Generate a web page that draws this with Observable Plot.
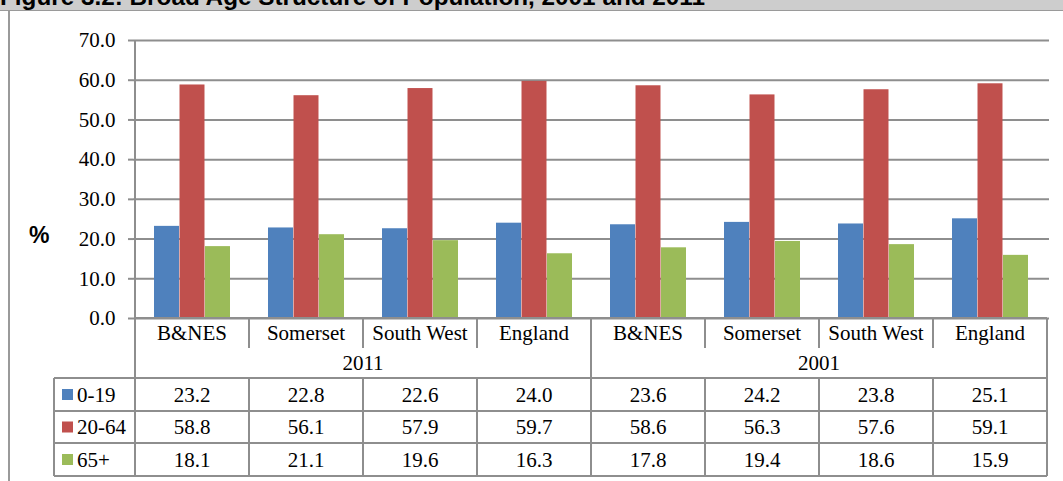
<!DOCTYPE html>
<html>
<head>
<meta charset="utf-8">
<script src="https://cdn.jsdelivr.net/npm/d3@7"></script>
<script src="https://cdn.jsdelivr.net/npm/@observablehq/plot@0.6"></script>
<style>
  html, body { margin: 0; padding: 0; background: #fff; }
  #page { position: relative; width: 1063px; height: 481px; overflow: hidden; background: #fff; }
  #chart { position: absolute; left: 0; top: 0; }
  #chart svg text { font-family: "Liberation Serif", "Times New Roman", serif; }
  #titlebar { position: absolute; left: 0; top: 0; }
  #box { position: absolute; left: 8px; top: 11px; width: 1200px; height: 600px; border-left: 2px solid #9a9a9a; }
  #ylabel { position: absolute; left: 29px; top: 222px; font: bold 23px "Liberation Sans", Arial, sans-serif; color: #000; }
</style>
</head>
<body>
<div id="page">
  <div id="box"></div>
  <div id="chart"></div>
  <svg id="titlebar" width="1063" height="11">
    <rect x="0" y="0" width="1063" height="10" fill="#cdcdcd"></rect>
    <line x1="0" x2="1063" y1="10.5" y2="10.5" stroke="#9a9a9a"></line>
    <text x="0" y="5" font-family="'Liberation Sans', Arial, sans-serif" font-weight="bold" font-size="24" textLength="705" lengthAdjust="spacingAndGlyphs">Figure 3.2: Broad Age Structure of Population, 2001 and 2011</text>
  </svg>
  <div id="ylabel">%</div>
</div>
<script>
// Areas and census years shown along the category axis
const areas = ["B&NES", "Somerset", "South West", "England"];
const years = ["2011", "2001"];

// Share of population (%) by broad age band, 2011 areas first, then 2001 areas
const age0to19  = [23.2, 22.8, 22.6, 24.0, 23.6, 24.2, 23.8, 25.1];
const age20to64 = [58.8, 56.1, 57.9, 59.7, 58.6, 56.3, 57.6, 59.1];
const age65plus = [18.1, 21.1, 19.6, 16.3, 17.8, 19.4, 18.6, 15.9];

const seriesNames = ["0-19", "20-64", "65+"];
const seriesValues = [age0to19, age20to64, age65plus];
const seriesColors = ["#4f81bd", "#c0504d", "#9bbb59"];

const yTicks = [0, 10, 20, 30, 40, 50, 60, 70];

// One column per year/area pair
const columns = years.flatMap(yr => areas.map(a => ({key: `${yr} ${a}`, year: yr, area: a})));
const columnKeys = columns.map(c => c.key);

const rows = seriesNames.flatMap((s, si) =>
  columns.map((c, ci) => ({series: s, si, key: c.key, value: seriesValues[si][ci]})));

const W = 1063, H = 481;
const marginLeft = 133, marginRight = 14, marginTop = 40, marginBottom = 163;
const lineGray = "#8e8e8e";
const serif = "Liberation Serif, Times New Roman, serif";

// Three bars side by side inside each column, with equal gaps at both sides
const step = (W - marginLeft - marginRight) / columnKeys.length;
const groupWidth = step * 0.668;
const gap = (step - groupWidth) / 2;
const barWidth = groupWidth / seriesNames.length;

const barMarks = seriesNames.map((s, i) =>
  Plot.barY(rows.filter(r => r.si === i), {
    x: "key",
    y: "value",
    fill: seriesColors[i],
    insetLeft: gap + i * barWidth,
    insetRight: step - gap - (i + 1) * barWidth
  }));

const chart = Plot.plot({
  width: W,
  height: H,
  marginLeft, marginRight, marginTop, marginBottom,
  style: {fontFamily: serif, fontSize: "21px", color: "#000", background: "transparent"},
  x: {domain: columnKeys, padding: 0, axis: null},
  y: {domain: [0, 70], axis: null},
  marks: [
    Plot.ruleY(yTicks, {stroke: lineGray, strokeWidth: 2}),
    ...barMarks,
    Plot.axisY(yTicks, {
      tickSize: 5,
      tickPadding: 13,
      tickFormat: d => d.toFixed(1),
      stroke: lineGray,
      strokeWidth: 2,
      fill: "#000",
      label: null,
      fontSize: 21,
      fontFamily: serif
    })
  ]
});

document.getElementById("chart").appendChild(chart);

// Data table under the bars, laid out on the chart's own x and y scales
const xs = chart.scale("x");
const ys = chart.scale("y");
const colLeft = k => xs.apply(k);
const colRight = k => xs.apply(k) + xs.bandwidth;
const colMid = k => xs.apply(k) + xs.bandwidth / 2;

const x0 = colLeft(columnKeys[0]);
const x1 = colRight(columnKeys[columnKeys.length - 1]);
const yBase = ys.apply(0);
const keyLeft = 54;

const catRowBottom = yBase + 30;
const yearRowBottom = yBase + 60;
const dataRowEdges = [yearRowBottom, yearRowBottom + 33, yearRowBottom + 65, yearRowBottom + 98];

const svg = d3.select(chart);
const g = svg.append("g").attr("stroke", lineGray).attr("stroke-width", 2).attr("fill", "none");

// y axis line
g.append("line").attr("x1", x0).attr("x2", x0).attr("y1", ys.apply(70)).attr("y2", yBase);

// horizontal rules
g.append("line").attr("x1", x0).attr("x2", x1).attr("y1", yBase).attr("y2", yBase);
for (const y of dataRowEdges) {
  g.append("line").attr("x1", keyLeft).attr("x2", x1).attr("y1", y).attr("y2", y);
}

// vertical rules: short ones between area labels, taller at year boundaries
columnKeys.forEach((k, i) => {
  if (i === 0) return;
  const yearEdge = i % areas.length === 0;
  g.append("line").attr("x1", colLeft(k)).attr("x2", colLeft(k))
    .attr("y1", yBase).attr("y2", yearEdge ? yearRowBottom : catRowBottom);
});
[x0, x1].forEach(x => {
  g.append("line").attr("x1", x).attr("x2", x).attr("y1", yBase).attr("y2", yearRowBottom);
});
[keyLeft, ...columnKeys.map(colLeft), x1].forEach(x => {
  g.append("line").attr("x1", x).attr("x2", x)
    .attr("y1", dataRowEdges[0]).attr("y2", dataRowEdges[dataRowEdges.length - 1]);
});

const t = svg.append("g")
  .attr("font-family", serif).attr("font-size", 21).attr("fill", "#000")
  .attr("text-anchor", "middle");

// area labels
columns.forEach(c => {
  t.append("text").attr("x", colMid(c.key)).attr("y", (yBase + catRowBottom) / 2).attr("dy", "0.35em").text(c.area);
});
// year labels
years.forEach(yr => {
  const ks = columns.filter(c => c.year === yr).map(c => c.key);
  const mid = (colLeft(ks[0]) + colRight(ks[ks.length - 1])) / 2;
  t.append("text").attr("x", mid).attr("y", (catRowBottom + yearRowBottom) / 2).attr("dy", "0.35em").text(yr);
});
// value rows with legend keys
seriesNames.forEach((s, si) => {
  const yMid = (dataRowEdges[si] + dataRowEdges[si + 1]) / 2;
  svg.append("rect").attr("x", keyLeft + 8).attr("y", yMid - 5.5).attr("width", 11).attr("height", 11)
    .attr("fill", seriesColors[si]);
  t.append("text").attr("x", keyLeft + 23).attr("y", yMid).attr("dy", "0.35em")
    .attr("text-anchor", "start").text(s);
  columns.forEach((c, ci) => {
    t.append("text").attr("x", colMid(c.key)).attr("y", yMid).attr("dy", "0.35em")
      .text(seriesValues[si][ci].toFixed(1));
  });
});
</script>
</body>
</html>
